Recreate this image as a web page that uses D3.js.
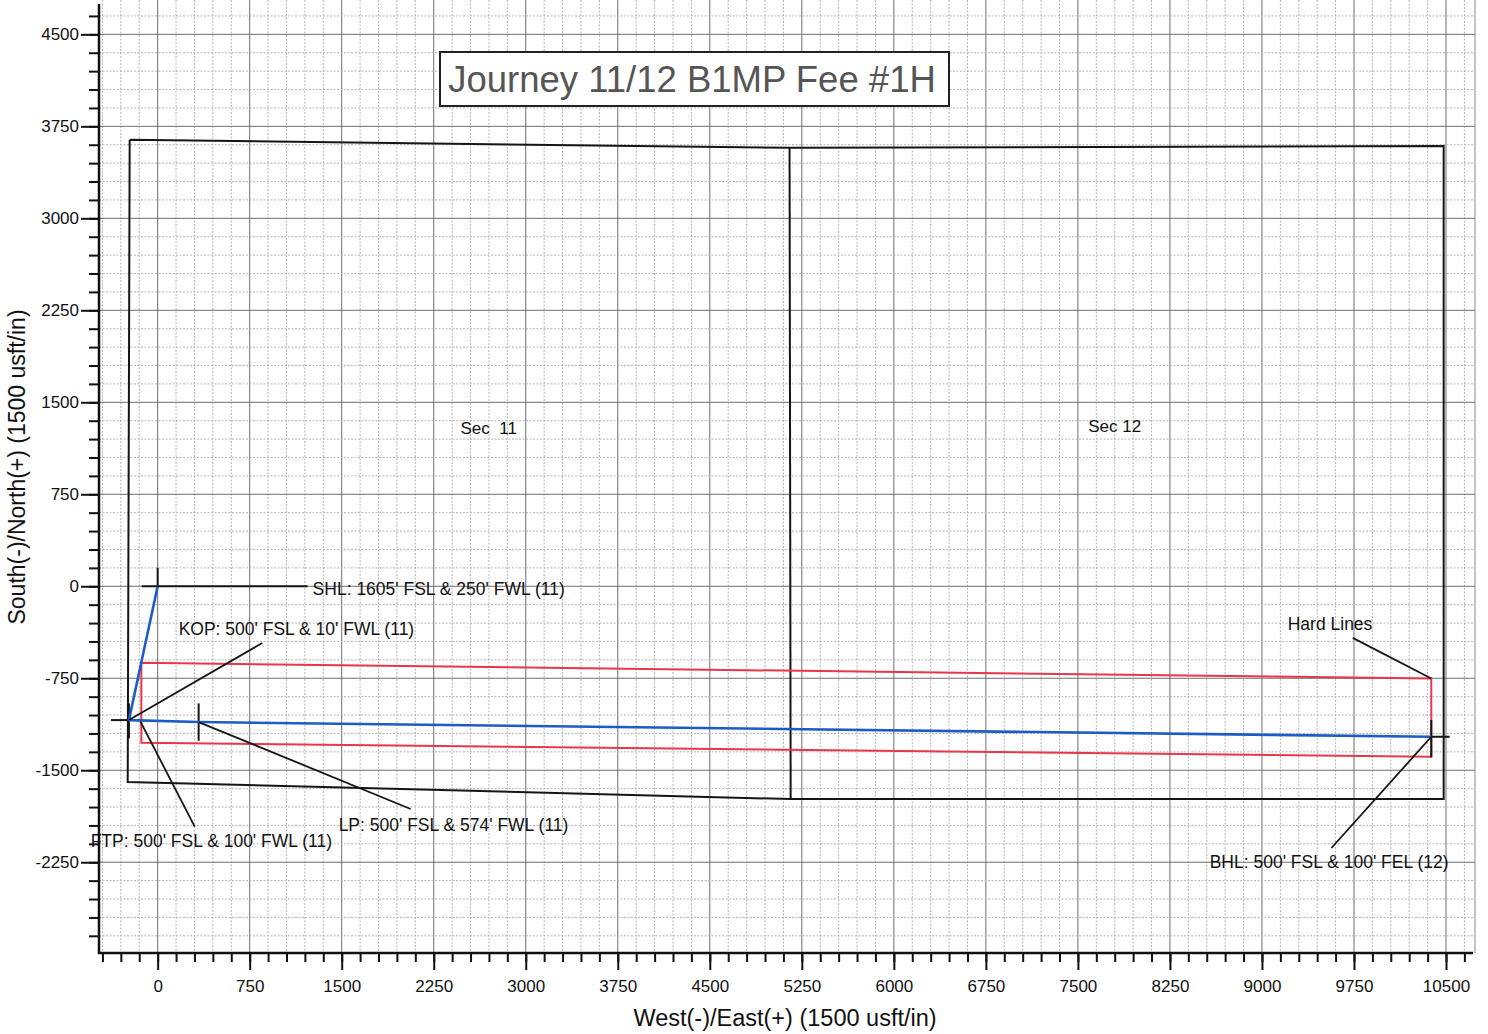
<!DOCTYPE html>
<html>
<head>
<meta charset="utf-8">
<script src="https://cdn.jsdelivr.net/npm/d3@7"></script>
<style>
  body { margin: 0; background: #fff; }
  svg { display: block; font-family: "Liberation Sans", Arial, sans-serif; }
</style>
</head>
<body>
<div id="plan"></div>
<script>
// Data (usft, East = x, North = y)
const majorStep = 750;
const minorStep = 150;
const xTickValues = [0, 750, 1500, 2250, 3000, 3750, 4500, 5250, 6000, 6750, 7500, 8250, 9000, 9750, 10500];
const yTickValues = [-2250, -1500, -750, 0, 750, 1500, 2250, 3000, 3750, 4500];

// Section boundary (Sec 11 + Sec 12)
const sectionOutline = [[-228, 3640], [5143, 3575], [10481, 3590], [10481, -1735], [5159, -1735], [-244, -1596], [-228, 3640]];
const sectionDivider = [[5150, 3575], [5159, -1735]];
const sectionNames = ["Sec  11", "Sec 12"];
const sectionLabelAt = [[2698, 1287], [7800, 1303]];

// Hard lines (red)
const hardLines = [[-133, -624], [10380, -752], [10380, -1390], [-133, -1276], [-133, -624]];

// Well path (blue): SHL -> KOP -> LP -> BHL
const wellPath = [[0, 0], [-234, -1091], [334, -1107], [10380, -1227]];

// Points of interest
const poiNames = ["SHL", "KOP", "FTP", "LP", "BHL", "Hard Lines"];
const poiText = [
  "SHL: 1605' FSL & 250' FWL (11)",
  "KOP: 500' FSL & 10' FWL (11)",
  "FTP: 500' FSL & 100' FWL (11)",
  "LP: 500' FSL & 574' FWL (11)",
  "BHL: 500' FSL & 100' FEL (12)",
  "Hard Lines"
];
const poiTarget = [[0, 0], [-234, -1091], [-139, -1105], [334, -1107], [10380, -1227], [10380, -752]];
// leader line far end, and label anchor (left x, middle y)
const poiLeaderEnd = [[1222, 0], [853, -462], [302, -1960], [2062, -1816], [9566, -2134], [9740, -421]];
const poiLabelAt = [[1263, -25], [171, -350], [-546, -2076], [1475, -1946], [8574, -2248], [9210, -309]];

const titleText = "Journey 11/12 B1MP Fee #1H";

// Layout
const W = 1488, H = 1034;
const plot = { left: 99, right: 1473, top: 0, bottom: 953 };

const x = d3.scaleLinear().domain([-478, 10720]).range([plot.left, plot.right]);
const y = d3.scaleLinear().domain([-2990, 4780]).range([plot.bottom, plot.top]);

const svg = d3.select("#plan").append("svg")
  .attr("width", W)
  .attr("height", H);

// grid
const xMinor = d3.range(-450, 10720, minorStep);
const yMinor = d3.range(-2850, 4780, minorStep);
const isMajor = v => Math.abs(v % majorStep) < 1e-6;

const grid = svg.append("g").attr("class", "grid");
grid.selectAll(".gx")
  .data(xMinor)
  .enter()
  .append("line")
  .attr("x1", d => x(d)).attr("x2", d => x(d))
  .attr("y1", plot.top).attr("y2", plot.bottom)
  .attr("stroke", d => isMajor(d) ? "#6e6e6e" : "#b4b4b4")
  .attr("stroke-width", 1)
  .attr("stroke-dasharray", d => isMajor(d) ? null : "2,1.5");
grid.selectAll(".gy")
  .data(yMinor)
  .enter()
  .append("line")
  .attr("y1", d => y(d)).attr("y2", d => y(d))
  .attr("x1", plot.left).attr("x2", plot.right + 2)
  .attr("stroke", d => isMajor(d) ? "#6e6e6e" : "#b4b4b4")
  .attr("stroke-width", 1)
  .attr("stroke-dasharray", d => isMajor(d) ? null : "2,1.5");
// right frame of the grid
grid.append("line")
  .attr("x1", plot.right + 2).attr("x2", plot.right + 2)
  .attr("y1", plot.top).attr("y2", plot.bottom)
  .attr("stroke", "#8a8a8a");

// axes: minor ticks, then major ticks with labels
const xMinorAxis = d3.axisBottom(x).tickValues(xMinor).tickSize(9).tickFormat("");
const xMajorAxis = d3.axisBottom(x).tickValues(xTickValues).tickSize(17).tickFormat(d => String(d));
const yMinorAxis = d3.axisLeft(y).tickValues(yMinor).tickSize(10).tickFormat("");
const yMajorAxis = d3.axisLeft(y).tickValues(yTickValues).tickSize(18).tickFormat(d => String(d));

function styleAxis(g) {
  g.select(".domain").remove();
  g.selectAll(".tick line").attr("stroke", "#111").attr("stroke-width", 2);
  g.selectAll(".tick text").attr("fill", "#111").style("font-size", "17px")
    .style("font-family", "'Liberation Sans', Arial, sans-serif");
}

svg.append("g").attr("transform", `translate(0,${plot.bottom})`).call(xMinorAxis).call(styleAxis);
svg.append("g").attr("transform", `translate(0,${plot.bottom})`).call(xMajorAxis).call(styleAxis)
  .selectAll(".tick text").attr("dy", "1.1em");
svg.append("g").attr("transform", `translate(${plot.left},0)`).call(yMinorAxis).call(styleAxis);
svg.append("g").attr("transform", `translate(${plot.left},0)`).call(yMajorAxis).call(styleAxis)
  .selectAll(".tick text").attr("x", -20);

// axis lines
svg.append("line")
  .attr("x1", plot.left).attr("x2", plot.left)
  .attr("y1", plot.top + 4).attr("y2", plot.bottom + 1)
  .attr("stroke", "#111").attr("stroke-width", 2.5);
svg.append("line")
  .attr("x1", plot.left - 1).attr("x2", plot.right)
  .attr("y1", plot.bottom).attr("y2", plot.bottom)
  .attr("stroke", "#111").attr("stroke-width", 2.5);

// axis titles
svg.append("text")
  .attr("x", 785).attr("y", 1026)
  .attr("text-anchor", "middle")
  .style("font-size", "23.5px")
  .attr("fill", "#111")
  .text("West(-)/East(+) (1500 usft/in)");
svg.append("text")
  .attr("transform", "translate(25,467) rotate(-90)")
  .attr("text-anchor", "middle")
  .style("font-size", "23px")
  .attr("fill", "#111")
  .text("South(-)/North(+) (1500 usft/in)");

const line = d3.line().x(d => x(d[0])).y(d => y(d[1]));

// section lines
svg.append("path").datum(sectionOutline)
  .attr("d", line).attr("fill", "none")
  .attr("stroke", "#151515").attr("stroke-width", 2);
svg.append("path").datum(sectionDivider)
  .attr("d", line).attr("fill", "none")
  .attr("stroke", "#151515").attr("stroke-width", 2);
svg.selectAll(".sec")
  .data(sectionNames)
  .enter()
  .append("text")
  .attr("x", (d, i) => x(sectionLabelAt[i][0]))
  .attr("y", (d, i) => y(sectionLabelAt[i][1]))
  .attr("text-anchor", "middle")
  .attr("dominant-baseline", "central")
  .style("font-size", "17px")
  .style("white-space", "pre")
  .attr("fill", "#111")
  .text(d => d);

// hard lines
svg.append("path").datum(hardLines)
  .attr("d", line).attr("fill", "none")
  .attr("stroke", "#e8364a").attr("stroke-width", 2);

// crosshair marks at SHL, KOP, LP, BHL
const marks = [
  [[0, 150], [0, 0]],
  [[-130, 0], [0, 0]],
  [[-234, -955], [-234, -1240]],
  [[-380, -1091], [-234, -1091]],
  [[334, -955], [334, -1260]],
  [[10380, -1090], [10380, -1395]],
  [[10380, -1227], [10530, -1227]]
];
svg.selectAll(".mark")
  .data(marks)
  .enter()
  .append("path")
  .attr("d", line)
  .attr("stroke", "#151515").attr("stroke-width", 2);

// well path
svg.append("path").datum(wellPath)
  .attr("d", line).attr("fill", "none")
  .attr("stroke", "#1c5cc4").attr("stroke-width", 2.6)
  .attr("stroke-linejoin", "round");

// annotations
const ann = svg.append("g");
ann.selectAll(".leader")
  .data(poiNames)
  .enter()
  .append("line")
  .attr("x1", (d, i) => x(poiTarget[i][0]))
  .attr("y1", (d, i) => y(poiTarget[i][1]))
  .attr("x2", (d, i) => x(poiLeaderEnd[i][0]))
  .attr("y2", (d, i) => y(poiLeaderEnd[i][1]))
  .attr("stroke", "#151515").attr("stroke-width", 1.8);
ann.selectAll(".lbl")
  .data(poiText)
  .enter()
  .append("text")
  .attr("x", (d, i) => x(poiLabelAt[i][0]))
  .attr("y", (d, i) => y(poiLabelAt[i][1]))
  .attr("dominant-baseline", "central")
  .style("font-size", "17.5px")
  .attr("fill", "#111")
  .text(d => d);

// title box
svg.append("rect")
  .attr("x", 440).attr("y", 52)
  .attr("width", 509).attr("height", 54)
  .attr("fill", "#fff")
  .attr("stroke", "#222").attr("stroke-width", 2);
svg.append("text")
  .attr("x", 692).attr("y", 79)
  .attr("text-anchor", "middle")
  .attr("dominant-baseline", "central")
  .style("font-size", "36.5px")
  .attr("fill", "#555")
  .text(titleText);
</script>
</body>
</html>
